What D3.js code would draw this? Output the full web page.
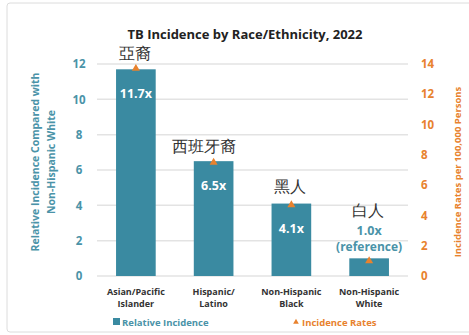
<!DOCTYPE html>
<html lang="en">
<head>
    <meta charset="UTF-8">
    <title>TB Incidence by Race/Ethnicity</title>
    <script src="https://cdn.jsdelivr.net/npm/d3@7/dist/d3.min.js"></script>
    <style>
        body { margin: 0; background: #fff; }
        text { font-family: "Open Sans", "Noto Sans", sans-serif; }
    </style>
</head>
<body>
<script type="text/javascript">
    var categories = [['Asian/Pacific', 'Islander'], ['Hispanic/', 'Latino'], ['Non-Hispanic', 'Black'], ['Non-Hispanic', 'White']];
    var relative = [11.7, 6.5, 4.1, 1.0];
    var rates = [13.7, 7.5, 4.7, 1.0];
    var zhLabels = ['亞裔', '西班牙裔', '黑人', '白人'];
    var leftTicks = [0, 2, 4, 6, 8, 10, 12];
    var rightTicks = [0, 2, 4, 6, 8, 10, 12, 14];

    var width = 469, height = 335;
    var teal = '#3a8aa1', orange = '#e8822e';
    var svg = d3.select('body').append('svg')
            .attr('width', width)
            .attr('height', height);

    svg.append('rect')
            .attr('x', 7).attr('y', 3)
            .attr('width', 480).attr('height', 329)
            .attr('rx', 3)
            .attr('fill', '#fff')
            .attr('stroke', '#dcdcdc');

    var x = d3.scaleBand().domain(d3.range(categories.length)).range([97, 408])
            .paddingInner(0.49).paddingOuter(0.245);
    var yL = d3.scaleLinear().domain([0, 12]).range([276, 64]);
    var yR = d3.scaleLinear().domain([0, 14]).range([276, 64]);

    // grid
    svg.selectAll('line.grid')
            .data(leftTicks)
            .enter()
            .append('line')
            .attr('x1', 97).attr('x2', 408)
            .attr('y1', function (d) { return yL(d); })
            .attr('y2', function (d) { return yL(d); })
            .attr('stroke', '#e3e3e3')
            .attr('stroke-width', 1.5);

    var axisL = svg.append('g').attr('transform', 'translate(79,0)')
            .call(d3.axisLeft(yL).tickValues(leftTicks).tickSize(0).tickPadding(0));
    axisL.select('.domain').remove();
    axisL.selectAll('text').attr('fill', '#4a93a8').attr('font-size', '11.5px').attr('font-weight', 'bold')
            .attr('text-anchor', 'middle');

    var axisR = svg.append('g').attr('transform', 'translate(421,0)')
            .call(d3.axisRight(yR).tickValues(rightTicks).tickSize(0).tickPadding(0));
    axisR.select('.domain').remove();
    axisR.selectAll('text').attr('fill', orange).attr('font-size', '11.5px').attr('font-weight', 'bold');

    // bars
    svg.selectAll('rect.bar')
            .data(relative)
            .enter()
            .append('rect')
            .attr('class', 'bar')
            .attr('x', function (d, i) { return x(i); })
            .attr('y', function (d) { return yL(d); })
            .attr('width', x.bandwidth())
            .attr('height', function (d) { return yL(0) - yL(d); })
            .attr('fill', teal);

    // value labels
    svg.selectAll('text.val')
            .data(relative)
            .enter()
            .append('text')
            .attr('x', function (d, i) { return x(i) + x.bandwidth() / 2; })
            .attr('y', function (d, i) { return i < 3 ? yL(d) + 29 : yL(d) - 23; })
            .attr('text-anchor', 'middle')
            .attr('font-size', '12.5px')
            .attr('font-weight', 'bold')
            .attr('fill', function (d, i) { return i < 3 ? '#fff' : '#4a93a8'; })
            .text(function (d) { return d.toFixed(1) + 'x'; });
    svg.append('text')
            .attr('x', x(3) + x.bandwidth() / 2)
            .attr('y', yL(relative[3]) - 7)
            .attr('text-anchor', 'middle')
            .attr('font-size', '12px')
            .attr('font-weight', 'bold')
            .attr('fill', '#4a93a8')
            .text('(reference)');

    // rate triangles
    svg.selectAll('path.tri')
            .data(rates)
            .enter()
            .append('path')
            .attr('d', d3.symbol().type(d3.symbolTriangle).size(28))
            .attr('transform', function (d, i) {
                return 'translate(' + (x(i) + x.bandwidth() / 2) + ',' + yR(d) + ')';
            })
            .attr('fill', orange);

    // chinese labels
    svg.selectAll('text.zh')
            .data(zhLabels)
            .enter()
            .append('text')
            .attr('x', function (d, i) { return x(i) + x.bandwidth() / 2 - (i === 1 ? 10 : 1); })
            .attr('y', function (d, i) { return [59, 152, 192, 216][i]; })
            .attr('text-anchor', 'middle')
            .attr('font-family', '"Noto Sans CJK TC", sans-serif')
            .attr('font-size', '16px')
            .attr('fill', '#333')
            .text(function (d) { return d; });

    // category labels
    categories.forEach(function (c, i) {
        c.forEach(function (line, j) {
            svg.append('text')
                    .attr('x', x(i) + x.bandwidth() / 2)
                    .attr('y', 295 + j * 12)
                    .attr('text-anchor', 'middle')
                    .attr('font-size', '9px')
                    .attr('font-weight', 'bold')
                    .attr('fill', '#333')
                    .text(line);
        });
    });

    // title
    svg.append('text')
            .attr('x', 245).attr('y', 39)
            .attr('text-anchor', 'middle')
            .attr('font-size', '13px')
            .attr('font-weight', 'bold')
            .attr('fill', '#222')
            .text('TB Incidence by Race/Ethnicity, 2022');

    // axis titles
    var lt = svg.append('text')
            .attr('transform', 'translate(39,162) rotate(-90)')
            .attr('text-anchor', 'middle')
            .attr('font-size', '10.5px')
            .attr('font-weight', 'bold')
            .attr('fill', '#4a93a8');
    lt.append('tspan').attr('x', 0).attr('dy', 0).text('Relative Incidence Compared with');
    lt.append('tspan').attr('x', 0).attr('dy', 16).text('Non-Hispanic White');

    svg.append('text')
            .attr('transform', 'translate(461,172) rotate(-90)')
            .attr('text-anchor', 'middle')
            .attr('font-size', '9.5px')
            .attr('font-weight', 'bold')
            .attr('fill', orange)
            .text('Incidence Rates per 100,000 Persons');

    // legend
    svg.append('rect')
            .attr('x', 113).attr('y', 318)
            .attr('width', 7).attr('height', 7)
            .attr('fill', teal);
    svg.append('text')
            .attr('x', 122).attr('y', 325.5)
            .attr('font-size', '9.5px')
            .attr('font-weight', 'bold')
            .attr('fill', '#4a93a8')
            .text('Relative Incidence');
    svg.append('path')
            .attr('d', d3.symbol().type(d3.symbolTriangle).size(14))
            .attr('transform', 'translate(296,322)')
            .attr('fill', orange);
    svg.append('text')
            .attr('x', 302).attr('y', 325.5)
            .attr('font-size', '9.5px')
            .attr('font-weight', 'bold')
            .attr('fill', orange)
            .text('Incidence Rates');
</script>
</body>
</html>
